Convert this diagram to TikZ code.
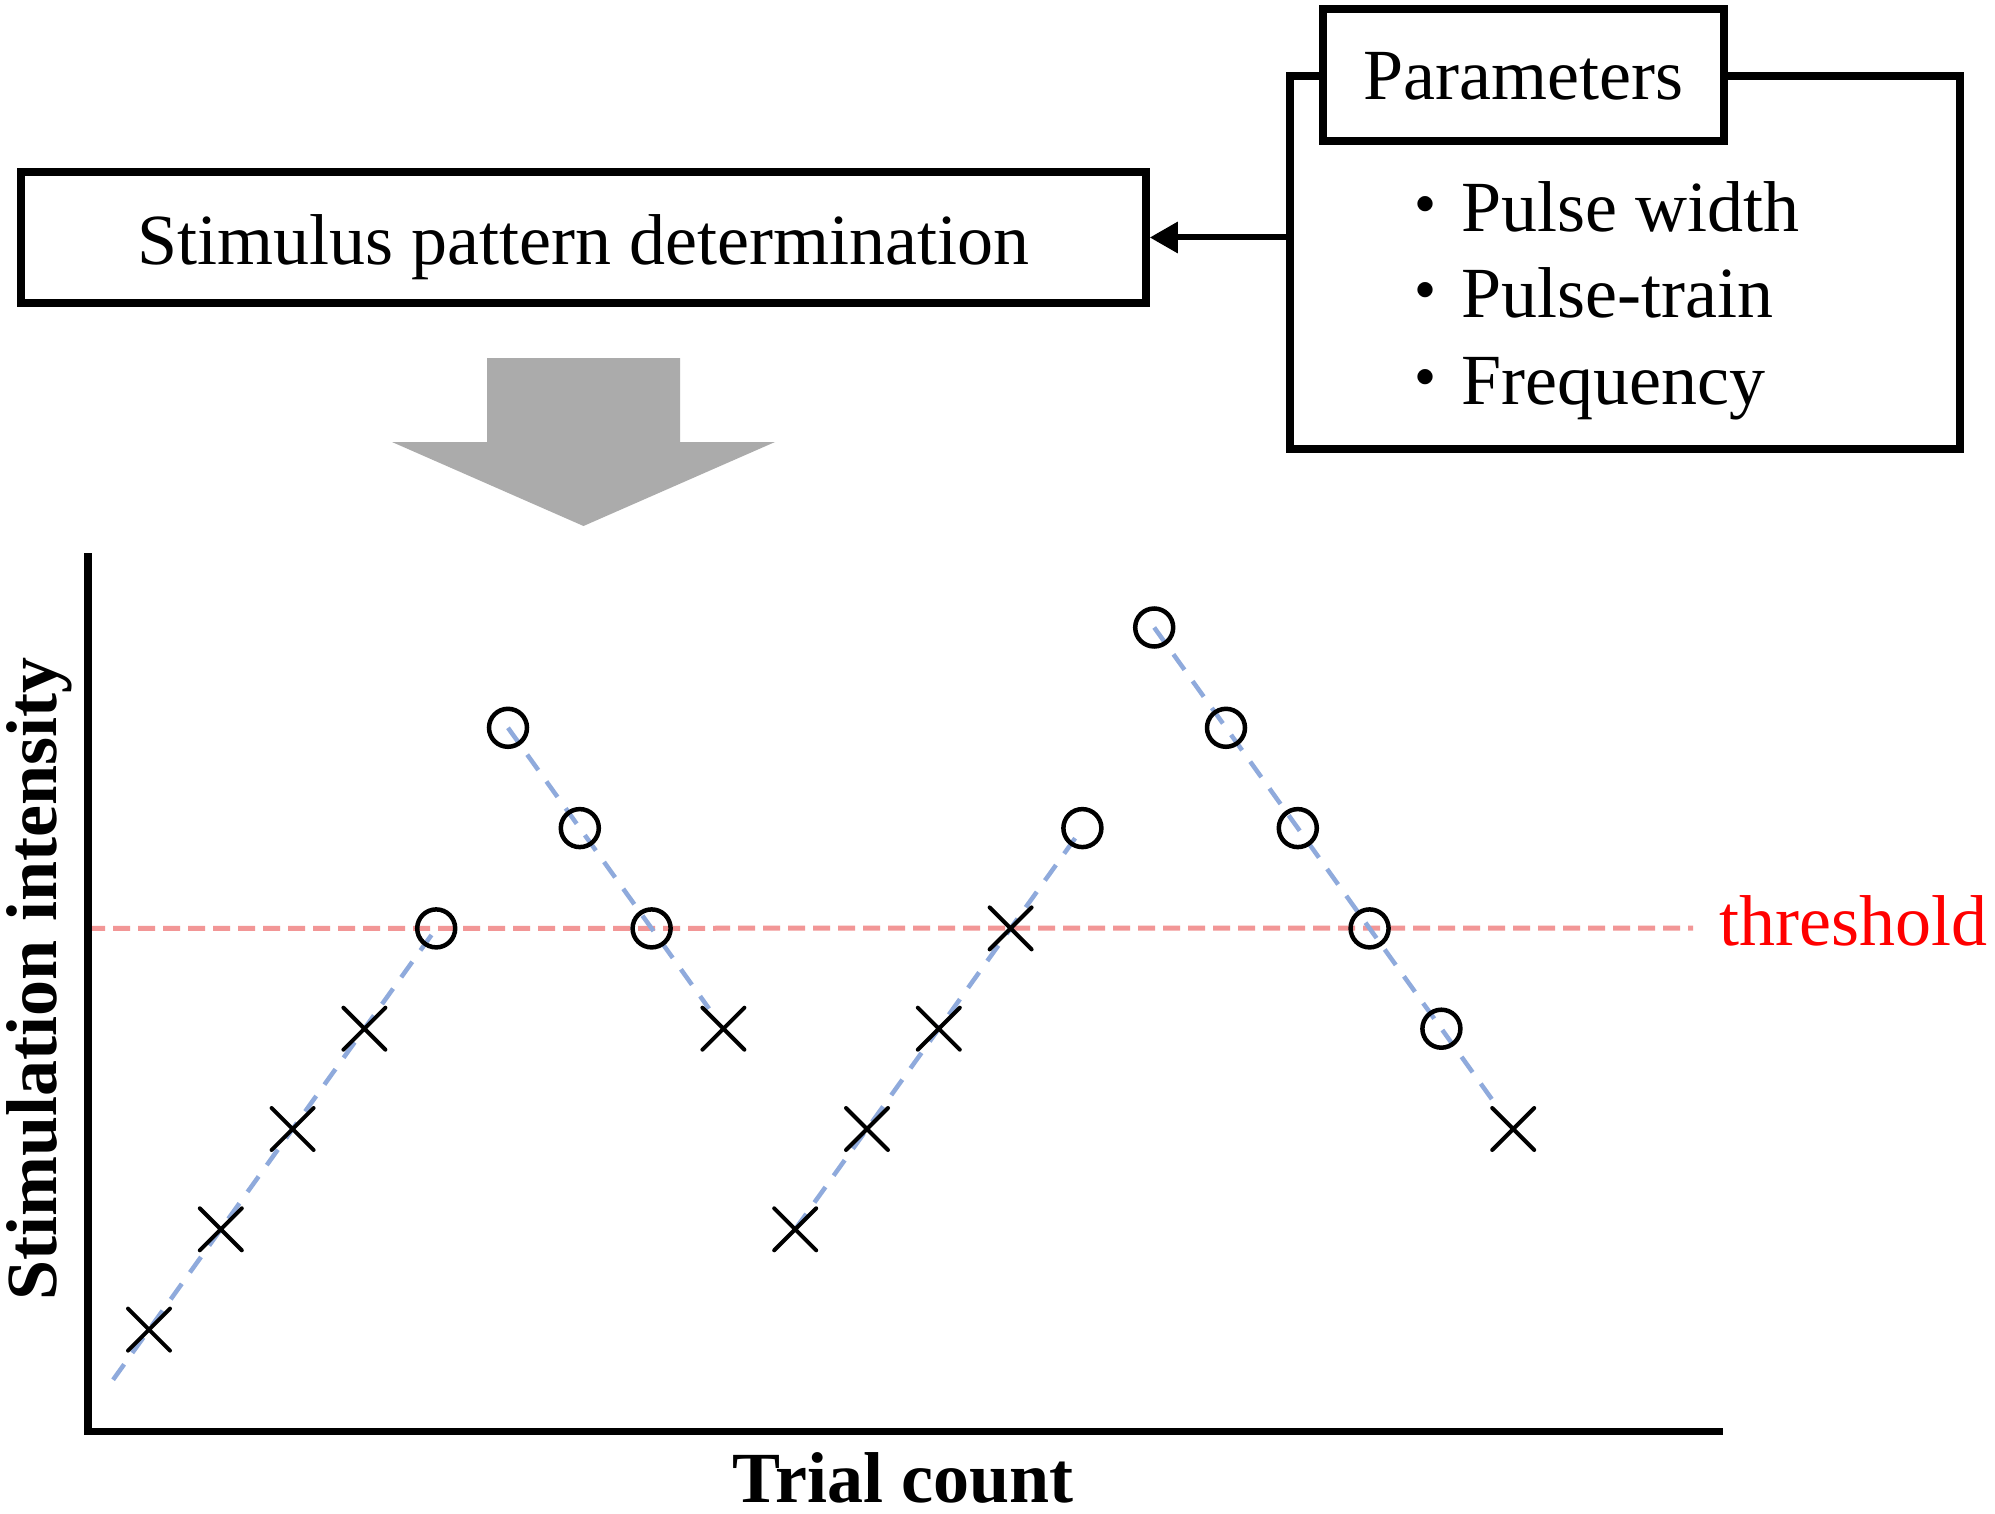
\documentclass[tikz,border=0pt]{standalone}
\usepackage{fontspec}
\setmainfont{Liberation Serif}
\newfontfamily\cjk{Noto Sans CJK JP}
\usetikzlibrary{arrows.meta,shapes.misc,calc}
\definecolor{arrowgray}{RGB}{171,171,171}
\definecolor{trendblue}{RGB}{143,170,220}
\definecolor{threshred}{RGB}{242,150,150}
\definecolor{labelred}{RGB}{255,0,0}
\begin{document}
\begin{tikzpicture}[x=1pt,y=-1pt,
  big/.style={font=\fontsize{72}{86}\selectfont, inner sep=0pt},
  bigbf/.style={font=\fontsize{72}{86}\selectfont\bfseries, inner sep=0pt},
  framebox/.style={draw, line width=7.5pt, inner sep=0pt},
  mkX/.style={cross out, draw, line width=4pt, line cap=round, minimum size=38pt, inner sep=0pt},
  mkO/.style={circle, draw, line width=4.5pt, minimum size=38pt, inner sep=0pt},
  trend/.style={trendblue, line width=4.5pt, dash pattern=on 19pt off 14pt},
  thresh/.style={threshred, line width=5pt, dash pattern=on 17pt off 8pt},
  axisline/.style={line width=7.5pt, line join=miter},
  flowarrow/.style={line width=6pt, -{Triangle[length=28pt,width=30pt]}},
]
\useasboundingbox (0,0) rectangle (1995,1514);
\fill[white] (0,0) rectangle (1995,1514);

% ---- top part ----
\node[framebox, big, minimum width=1125pt, minimum height=131pt,
      text height=65pt, text depth=10pt] (stim) at (583.5,237.5)
      {Stimulus pattern determination};

\node[framebox, minimum width=670pt, minimum height=373pt] (pbox) at (1625,262.5) {};
\node[framebox, fill=white, big, minimum width=401pt, minimum height=132pt,
      text height=60pt, text depth=10pt] (ptitle) at (1523.5,75) {Parameters};

\node[big, anchor=base west] (p1) at (1389.5,231.7) {{\cjk ・}Pulse width};
\node[big, anchor=base west] (p2) at (1389.5,318) {{\cjk ・}Pulse-train};
\node[big, anchor=base west] (p3) at (1389.5,404) {{\cjk ・}Frequency};

\draw[flowarrow] (pbox.west |- stim.east) -- (stim.east);

\fill[arrowgray] (487,358) -- (680,358) -- (680,442) -- (775,442) -- (583.5,526)
   -- (392,442) -- (487,442) -- cycle;

% ---- graph ----
\coordinate (yaxtop) at (88,553);
\coordinate (origin) at (88,1431.5);
\coordinate (xaxend) at (1723,1431.5);

\foreach \i/\L in {0/0,1/1,2/2,3/3,4/4,5/6,6/5,7/4,8/3,9/1,10/2,11/3,12/4,13/5,14/7,15/6,16/5,17/4,18/3,19/2}
  \coordinate (p\i) at ({149+71.8*\i},{1329.6-100.3*\L});

\node[big, text=labelred, anchor=base west] (thlabel) at (1719,945) {threshold};
\coordinate (thend) at (1693,928);
\draw[thresh] (origin |- p4) -- (thend);

\coordinate (a0) at ($(p0)!-0.5!(p1)$);
\draw[trend] (a0) -- (p4);
\draw[trend] (p5) -- ($(p7)!0.8!(p8)$);
\draw[trend] (p9) -- (p13);
\draw[trend] (p14) -- ($(p18)!0.8!(p19)$);

\foreach \i/\t in {0/X,1/X,2/X,3/X,4/O,5/O,6/O,7/O,8/X,9/X,10/X,11/X,12/X,13/O,14/O,15/O,16/O,17/O,18/O,19/X}
  \node[mk\t] (m\i) at (p\i) {};

\draw[axisline] (yaxtop) -- (origin) -- (xaxend);

\node[bigbf, anchor=base] (xlabel) at (903,1502) {Trial count};
\node[bigbf, anchor=base, rotate=90] (ylabel) at (56,979) {Stimulation intensity};
\end{tikzpicture}
\end{document}
